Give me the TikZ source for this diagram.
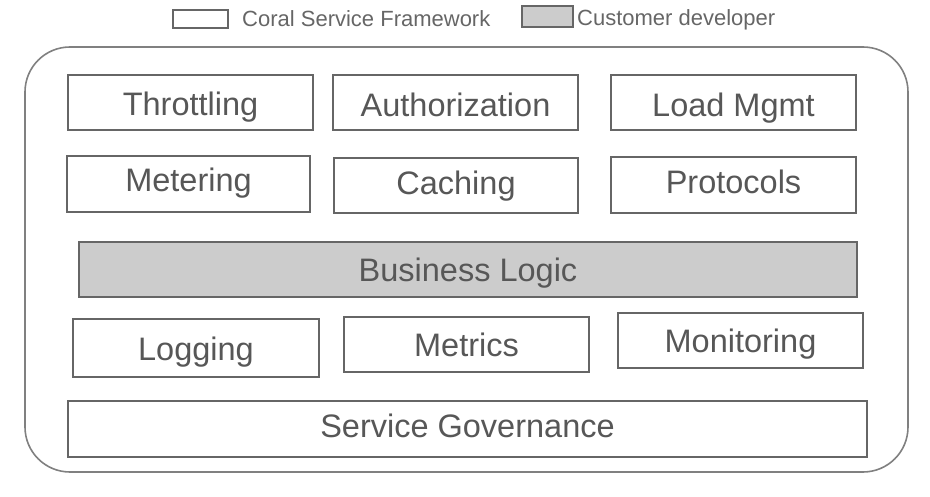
\documentclass[tikz,border=0pt]{standalone}
\usepackage{fontspec}
\setmainfont{Liberation Sans}
\begin{document}
\begin{tikzpicture}[x=1pt,y=-1pt,
  box/.style={draw=black!60, line width=1.8pt, fill=white, inner sep=0pt, text=black!66,
    font=\fontsize{32.5}{38}\selectfont, text height=23.3pt, text depth=0pt},
  bizbox/.style={box, fill=black!20},
  legbox/.style={draw=black!60, line width=1.3pt, inner sep=0pt},
  legtext/.style={text=black!60, inner sep=0pt, anchor=base west, font=\fontsize{22}{26}\selectfont}
]
\useasboundingbox (0,0) rectangle (930,497);
% outer frame
\draw[draw=black!50, line width=1.6pt, rounded corners=45pt] (25,47) rectangle (908,472);
% legend
\node[legbox, fill=white, minimum width=55pt, minimum height=18pt] (leg1) at (200.5,19) {};
\node[legtext] (legt1) at (242,27) {Coral Service Framework};
\node[legbox, fill=black!20, minimum width=51pt, minimum height=21pt] (leg2) at (547.5,16.5) {};
\node[legtext] (legt2) at (577,26) {Customer developer};
% row 1
\node[box, minimum width=245pt, minimum height=55pt, text height=26.3pt] (thr) at (190.5,102.5) {Throttling};
\node[box, minimum width=245pt, minimum height=55pt, text height=27.3pt] (auth) at (455.5,102.5) {Authorization};
\node[box, minimum width=245pt, minimum height=55pt, text height=27.3pt] (load) at (733.5,102.5) {Load Mgmt};
% row 2
\node[box, minimum width=243pt, minimum height=56pt, text depth=8pt] (met) at (188.5,184) {Metering};
\node[box, minimum width=244pt, minimum height=55pt, text depth=6pt] (cach) at (456,185.5) {Caching};
\node[box, minimum width=245pt, minimum height=56pt, text depth=7pt] (prot) at (733.5,185) {Protocols};
% business logic
\node[bizbox, minimum width=778pt, minimum height=55pt] (biz) at (468,269.5) {Business Logic};
% row 4
\node[box, minimum width=246pt, minimum height=58pt, text height=25.3pt] (logg) at (196,348) {Logging};
\node[box, minimum width=245pt, minimum height=55pt] (metr) at (466.5,344.5) {Metrics};
\node[box, minimum width=245pt, minimum height=55pt] (mon) at (740.5,340.5) {Monitoring};
% governance
\node[box, minimum width=799pt, minimum height=56pt, text depth=7pt] (gov) at (467.5,429) {Service Governance};
\end{tikzpicture}
\end{document}
